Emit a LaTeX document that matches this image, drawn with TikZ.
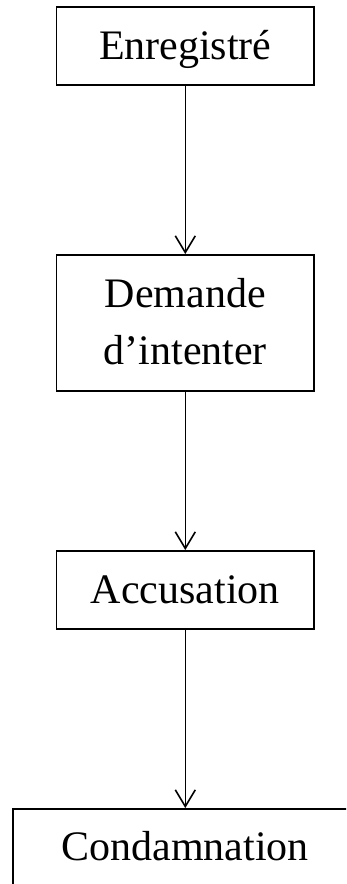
\documentclass[tikz,border=0pt]{standalone}
\usepackage{fontspec}
\setmainfont{Liberation Serif}
\usetikzlibrary{arrows.meta}
\begin{document}
\begin{tikzpicture}[x=0.75pt,y=-0.75pt,
  box/.style={draw,line width=1.4pt,inner sep=0pt,minimum width=257.5*0.75pt,minimum height=78*0.75pt},
  lbl/.style={anchor=base,inner sep=0pt,font=\fontsize{31.5pt}{42pt}\selectfont},
  conn/.style={line width=1.2pt,-{Straight Barb[length=12.5pt,width=15pt,line width=1.2pt]}}]
\useasboundingbox (0,0) rectangle (346,884);
\clip (0,0) rectangle (346,884);
\node[box] (b1) at (185.3,46) {};
\node[box,minimum height=136*0.75pt] (b2) at (185.3,323) {};
\node[box] (b3) at (185.3,590) {};
\node[box,minimum width=345*0.75pt] (b4) at (185.3,848) {};
\node[lbl] (t1) at (185.3,60) {Enregistré};
\node[lbl] (t2a) at (185.3,307) {Demande};
\node[lbl] (t2b) at (185.3,364) {d’intenter};
\node[lbl] (t3) at (185.3,603) {Accusation};
\node[lbl] (t4) at (185.3,860) {Condamnation};
\draw[conn] (b1.south) -- (b2.north);
\draw[conn] (b2.south) -- (b3.north);
\draw[conn] (b3.south) -- (b4.north);
\end{tikzpicture}
\end{document}
